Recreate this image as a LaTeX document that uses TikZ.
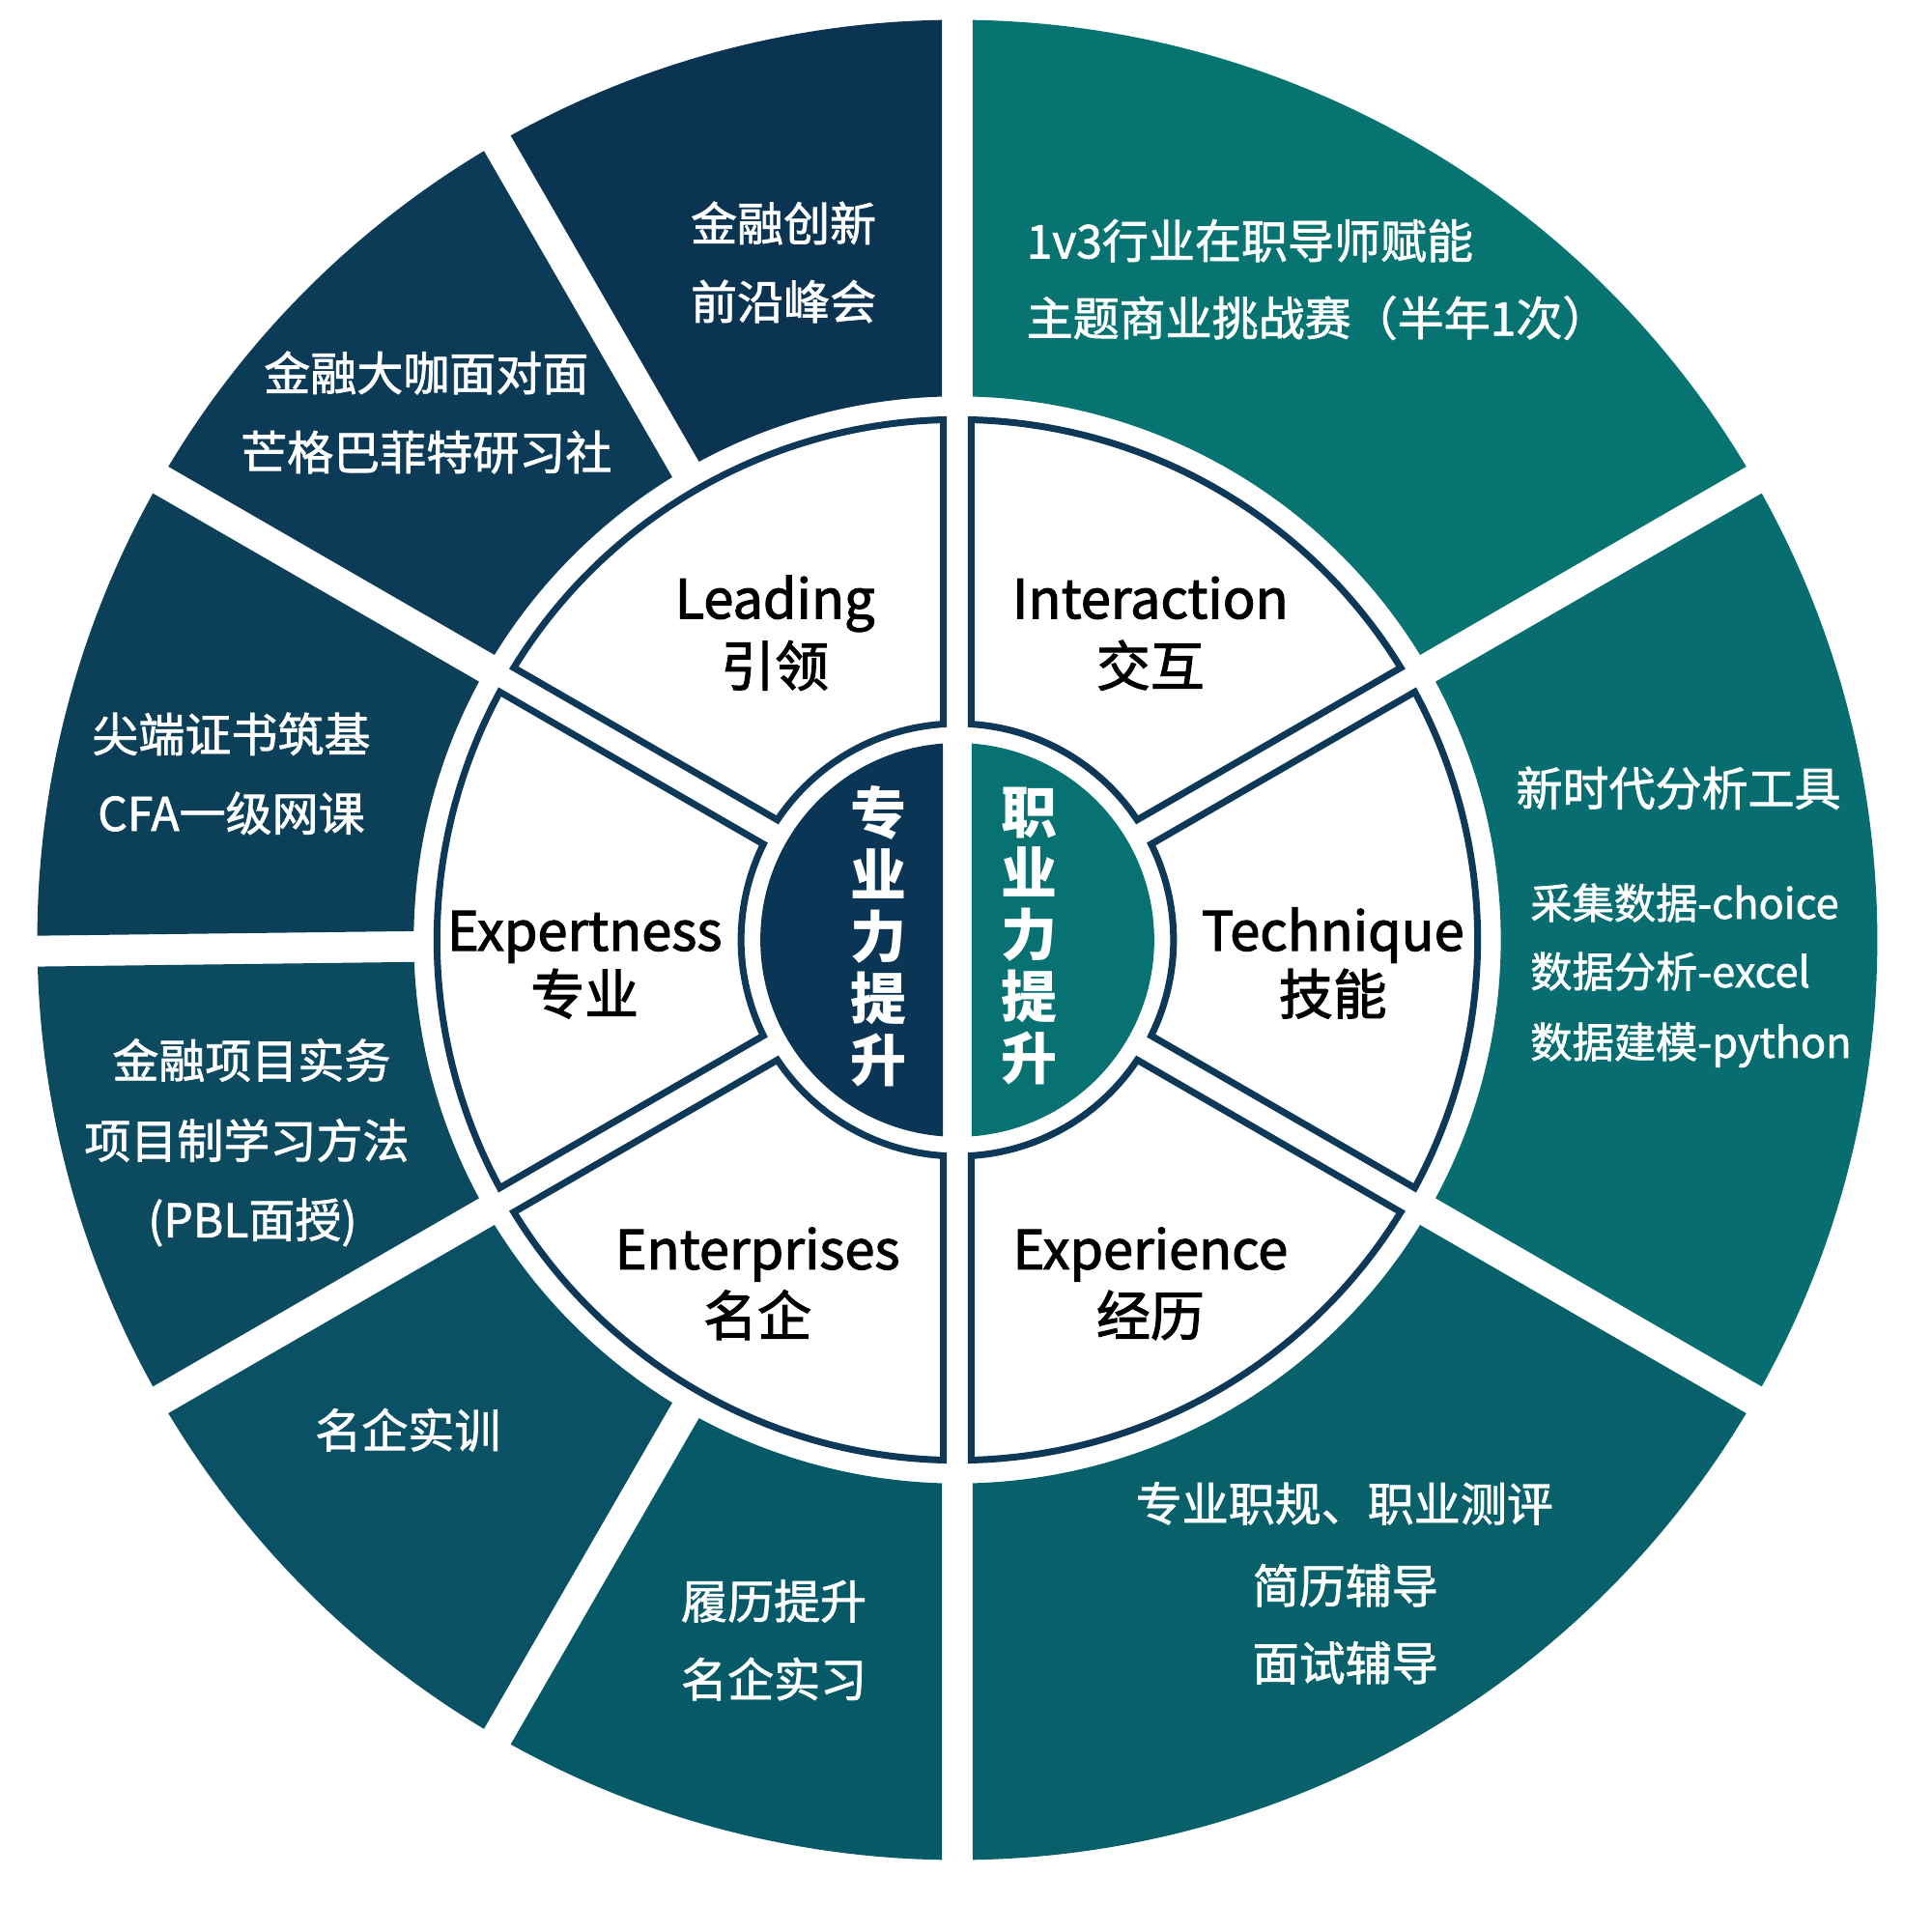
\documentclass[tikz,border=0pt]{standalone}
\usepackage{fontspec}
\setmainfont{Noto Sans CJK SC}
\newfontfamily\medfont{Noto Sans CJK SC}[FakeBold=1.5]
\newfontfamily\semifont{Noto Sans CJK SC}[FakeBold=2]
\definecolor{navyA}{HTML}{0B3453}
\definecolor{navyB}{HTML}{0C3B57}
\definecolor{navyC}{HTML}{0C4058}
\definecolor{navyD}{HTML}{0C4A60}
\definecolor{navyE}{HTML}{0A5165}
\definecolor{navyF}{HTML}{065A68}
\definecolor{tealA}{HTML}{077472}
\definecolor{tealB}{HTML}{076D70}
\definecolor{tealC}{HTML}{07606A}
\definecolor{cenL}{HTML}{0B3555}
\definecolor{cenR}{HTML}{087171}
\definecolor{outline}{HTML}{0E3857}
\tikzset{
  seg/.style n args={5}{insert path={({#1+asin(#5/#3)}:#3) -- ({#1+asin(#5/#4)}:#4)
     arc[start angle={#1+asin(#5/#4)}, end angle={#2-asin(#5/#4)}, radius=#4]
     -- ({#2-asin(#5/#3)}:#3)
     arc[start angle={#2-asin(#5/#3)}, end angle={#1+asin(#5/#3)}, radius=#3] -- cycle}},
  midseg/.style={fill=white, draw=outline, line width=0.07cm, line join=miter},
  outtext/.style={text=white, font=\medfont\fontsize{13.66pt}{16pt}\selectfont, inner sep=0pt, anchor=base},
  smalltext/.style={text=white, font=\medfont\fontsize{12.3pt}{15pt}\selectfont, inner sep=0pt, anchor=base west},
  midtext/.style={text=black, font=\semifont\fontsize{15.9pt}{18pt}\selectfont, inner sep=0pt, anchor=base},
  centext/.style={text=white, font=\bfseries\fontsize{16.5pt}{18.2pt}\selectfont, inner sep=0pt, align=center, anchor=center},
}
\begin{document}
\begin{tikzpicture}
\useasboundingbox (-9.91,-10.27) rectangle (10.09,9.73);
\fill[white] (-9.91,-10.27) rectangle (10.09,9.73);
\begin{scope}[x=0.01cm, y=0.01cm]
  % outer ring
  \path[fill=navyA, seg={90}{120}{563}{953}{16}];
  \path[fill=navyB, seg={120}{150}{563}{953}{16}];
  \path[fill=navyC, seg={150}{180.7}{563}{953}{16}];
  \path[fill=navyD, seg={180.7}{210}{563}{953}{16}];
  \path[fill=navyE, seg={210}{240}{563}{953}{16}];
  \path[fill=navyF, seg={240}{270}{563}{953}{16}];
  \path[fill=tealA, seg={30}{90}{563}{953}{16}];
  \path[fill=tealB, seg={-30}{30}{563}{953}{16}];
  \path[fill=tealC, seg={-90}{-30}{563}{953}{16}];
  % middle ring
  \path[midseg, seg={90}{150}{224}{539}{14.5}];
  \path[midseg, seg={150}{210}{224}{539}{14.5}];
  \path[midseg, seg={210}{270}{224}{539}{14.5}];
  \path[midseg, seg={30}{90}{224}{539}{14.5}];
  \path[midseg, seg={-30}{30}{224}{539}{14.5}];
  \path[midseg, seg={-90}{-30}{224}{539}{14.5}];
  % centre
  \path[fill=cenL] ({90+asin(15/204)}:204) arc[start angle={90+asin(15/204)}, end angle={270-asin(15/204)}, radius=204] -- cycle;
  \path[fill=cenR] ({-90+asin(15/204)}:204) arc[start angle={-90+asin(15/204)}, end angle={90-asin(15/204)}, radius=204] -- cycle;
\end{scope}
\begin{scope}[x=0.01cm, y=-0.01cm, shift={(-991,-973)}]
  % outer texts
  \node[outtext] (o1a) at (811,249) {金融创新};
  \node[outtext] (o1b) at (811,330) {前沿峰会};
  \node[outtext, anchor=base west] (o2a) at (1062,267) {1v3行业在职导师赋能};
  \node[outtext, anchor=base west] (o2b) at (1062,347) {主题商业挑战赛（半年1次）};
  \node[outtext] (o3a) at (441,404) {金融大咖面对面};
  \node[outtext] (o3b) at (441,486) {芒格巴菲特研习社};
  \node[outtext] (o4a) at (239,778) {尖端证书筑基};
  \node[outtext] (o4b) at (239,860) {CFA一级网课};
  \node[outtext] (o5a) at (260,1116) {金融项目实务};
  \node[outtext] (o5b) at (255,1199) {项目制学习方法};
  \node[outtext] (o5c) at (261,1281) {(PBL面授)};
  \node[outtext] (o6a) at (422,1499) {名企实训};
  \node[outtext] (o7a) at (801,1676) {履历提升};
  \node[outtext] (o7b) at (801,1757) {名企实习};
  \node[outtext] (o8a) at (1392,1575) {专业职规、职业测评};
  \node[outtext] (o8b) at (1393,1660) {简历辅导};
  \node[outtext] (o8c) at (1393,1740) {面试辅导};
  \node[outtext] (o9a) at (1738,834) {新时代分析工具};
  \node[smalltext] (o9b) at (1584,951) {采集数据-choice};
  \node[smalltext] (o9c) at (1584,1022) {数据分析-excel};
  \node[smalltext] (o9d) at (1584,1095) {数据建模-python};
  % middle texts
  \node[midtext] (m1a) at (802,640) {Leading};
  \node[midtext] (m1b) at (802,710) {引领};
  \node[midtext] (m2a) at (1191,640) {Interaction};
  \node[midtext] (m2b) at (1191,710) {交互};
  \node[midtext] (m3a) at (605,984) {Expertness};
  \node[midtext] (m3b) at (605,1050) {专业};
  \node[midtext] (m4a) at (1380,984) {Technique};
  \node[midtext] (m4b) at (1380,1050) {技能};
  \node[midtext] (m5a) at (784,1314) {Enterprises};
  \node[midtext] (m5b) at (784,1383) {名企};
  \node[midtext] (m6a) at (1191,1314) {Experience};
  \node[midtext] (m6b) at (1191,1383) {经历};
  % centre texts
  \node[centext] (c1) at (909,969) {专\\业\\力\\提\\升};
  \node[centext] (c2) at (1066,969) {职\\业\\力\\提\\升};
\end{scope}
\end{tikzpicture}
\end{document}
